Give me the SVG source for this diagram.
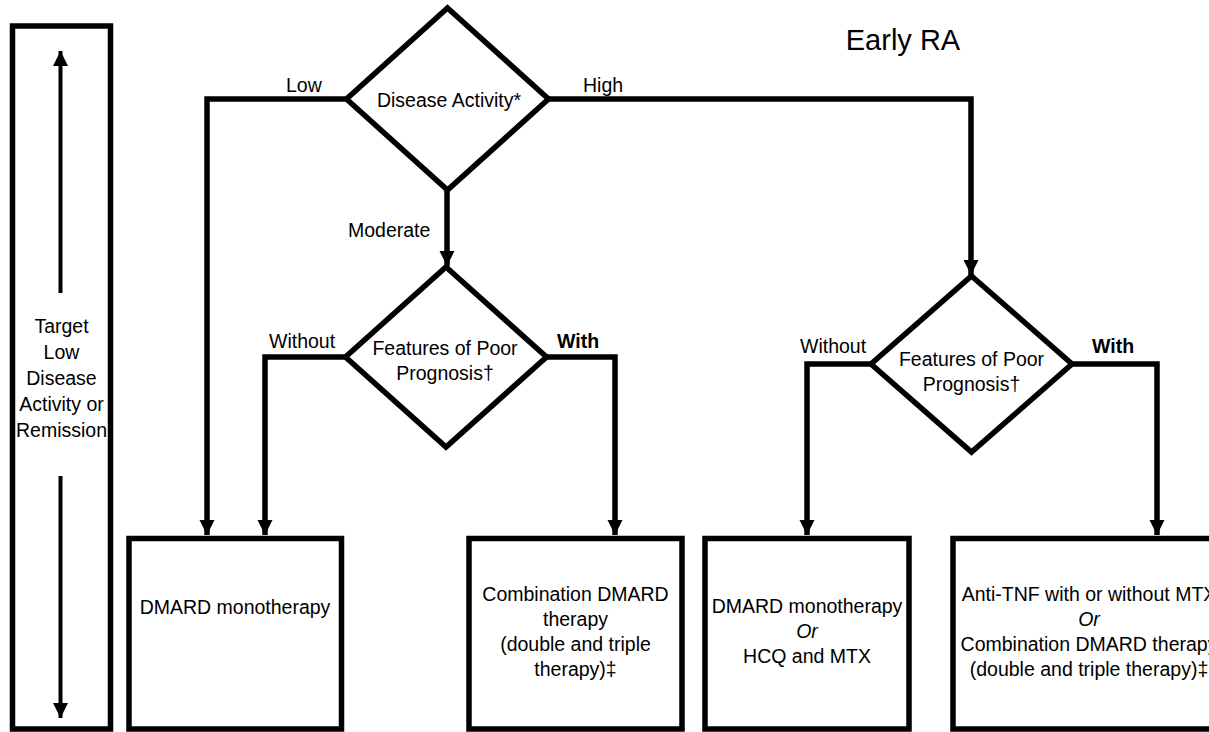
<svg xmlns="http://www.w3.org/2000/svg" width="1209" height="732" viewBox="0 0 1209 732">
  <style>
    text { font-family: "Liberation Sans", Arial, sans-serif; font-size: 19.5px; fill: #000; }
    .mid { text-anchor: middle; }
    .bold { font-weight: bold; }
    .it { font-style: italic; }
    .title { font-size: 29px; }
    .shape { fill: #fff; stroke: #000; stroke-width: 5.5; stroke-linejoin: miter; }
    .conn { fill: none; stroke: #000; stroke-width: 5.5; stroke-linejoin: miter; }
    .thin { fill: none; stroke: #000; stroke-width: 4; }
  </style>
  <defs>
    <marker id="arrow" markerUnits="userSpaceOnUse" markerWidth="16" markerHeight="16" viewBox="0 0 16 16" refX="15" refY="8" orient="auto">
      <path d="M0,0.5 L15,8 L0,15.5 Z" fill="#000"/>
    </marker>
  </defs>

  <rect width="1209" height="732" fill="#fff"/>

  <!-- side bar: target low disease activity or remission -->
  <g id="target">
    <rect class="shape" x="12.5" y="26" width="98" height="703"/>
    <line class="thin" x1="60.5" y1="293" x2="60.5" y2="51" marker-end="url(#arrow)"/>
    <line class="thin" x1="60.5" y1="476" x2="60.5" y2="718" marker-end="url(#arrow)"/>
    <text class="mid" x="61.5" y="333">Target</text>
    <text class="mid" x="61.5" y="359">Low</text>
    <text class="mid" x="61.5" y="385">Disease</text>
    <text class="mid" x="61.5" y="411">Activity or</text>
    <text class="mid" x="61.5" y="437">Remission</text>
  </g>

  <g id="title">
    <text class="title mid" x="903" y="50">Early RA</text>
  </g>

  <!-- connectors -->
  <g id="connectors">
    <polyline class="conn" points="347,99 207,99 207,535" marker-end="url(#arrow)"/>
    <polyline class="conn" points="548,99 971,99 971,275" marker-end="url(#arrow)"/>
    <line class="conn" x1="447" y1="190" x2="447" y2="266" marker-end="url(#arrow)"/>
    <polyline class="conn" points="346,357 265,357 265,535" marker-end="url(#arrow)"/>
    <polyline class="conn" points="546,357 615,357 615,535" marker-end="url(#arrow)"/>
    <polyline class="conn" points="871,364 807,364 807,535" marker-end="url(#arrow)"/>
    <polyline class="conn" points="1072,364 1157,364 1157,535" marker-end="url(#arrow)"/>
    <text x="286" y="92">Low</text>
    <text x="583" y="92">High</text>
    <text x="348" y="237">Moderate</text>
    <text x="269" y="348">Without</text>
    <text class="bold" x="557" y="348">With</text>
    <text x="800" y="353">Without</text>
    <text class="bold" x="1092" y="353">With</text>
  </g>

  <!-- decision: disease activity -->
  <g id="disease-activity">
    <polygon class="shape" points="447.5,8 548.5,99 447.5,190 346.5,99"/>
    <text class="mid" x="449" y="107">Disease Activity*</text>
  </g>

  <!-- decision: poor prognosis (moderate) -->
  <g id="prognosis-moderate">
    <polygon class="shape" points="446,267 546.5,357 446,447 345.5,357"/>
    <text class="mid" x="445" y="355">Features of Poor</text>
    <text class="mid" x="445" y="380">Prognosis†</text>
  </g>

  <!-- decision: poor prognosis (high) -->
  <g id="prognosis-high">
    <polygon class="shape" points="971.5,276 1072,364 971.5,452 871,364"/>
    <text class="mid" x="971.5" y="366">Features of Poor</text>
    <text class="mid" x="971.5" y="391">Prognosis†</text>
  </g>

  <!-- treatment boxes -->
  <g id="dmard-mono">
    <rect class="shape" x="129" y="538.5" width="212.5" height="190.5"/>
    <text class="mid" x="235" y="614">DMARD monotherapy</text>
  </g>

  <g id="combination">
    <rect class="shape" x="469" y="538.5" width="213" height="190.5"/>
    <text class="mid" x="575.5" y="601">Combination DMARD</text>
    <text class="mid" x="575.5" y="626">therapy</text>
    <text class="mid" x="575.5" y="651">(double and triple</text>
    <text class="mid" x="575.5" y="676">therapy)‡</text>
  </g>

  <g id="mono-or-hcq">
    <rect class="shape" x="705" y="538.5" width="204" height="190.5"/>
    <text class="mid" x="807" y="613">DMARD monotherapy</text>
    <text class="mid it" x="807" y="638">Or</text>
    <text class="mid" x="807" y="663">HCQ and MTX</text>
  </g>

  <g id="anti-tnf">
    <rect class="shape" x="953" y="538.5" width="272" height="190.5"/>
    <text class="mid" x="1089" y="601">Anti-TNF with or without MTX</text>
    <text class="mid it" x="1089" y="626">Or</text>
    <text class="mid" x="1089" y="651">Combination DMARD therapy</text>
    <text class="mid" x="1089" y="676">(double and triple therapy)‡</text>
  </g>
</svg>
